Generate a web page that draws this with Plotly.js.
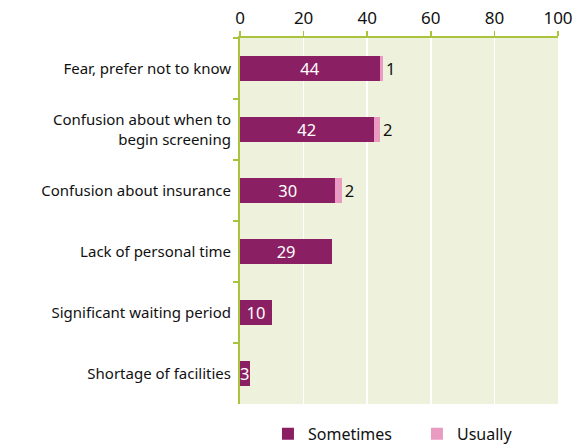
<!DOCTYPE html>
<html><head><meta charset="utf-8">
<script src="https://cdn.plot.ly/plotly-3.0.1.min.js"></script>
<style>html,body{margin:0;padding:0;background:#fff}#c{width:580px;height:448px}</style>
</head><body><div id="c"></div>
<script>
const categories = ["Fear, prefer not to know", "Confusion about when to<br>begin screening", "Confusion about insurance", "Lack of personal time", "Significant waiting period", "Shortage of facilities"];
const sometimes = [44, 42, 30, 29, 10, 3];
const usually = [1, 2, 2, 0, 0, 0];
const xTicks = [0, 20, 40, 60, 80, 100];

const FONT = "Noto Sans, Open Sans, sans-serif";
const green = "#a9c43c";
const traces = [
  {type: "bar", orientation: "h", name: "Sometimes", y: categories, x: sometimes,
   marker: {color: "#8b1f63", line: {width: 0}}, width: 0.4,
   text: sometimes.map(String), textposition: "inside", insidetextanchor: "middle",
   textangle: 0, constraintext: "none", textfont: {color: "#ffffff", size: 16.5, family: FONT},
   hoverinfo: "none"},
  {type: "bar", orientation: "h", name: "Usually", y: categories, x: usually,
   marker: {color: "#ea9bc2", line: {width: 0}}, width: 0.4,
   text: usually.map(v => v ? String(v) : ""), textposition: "outside", cliponaxis: false,
   textangle: 0, constraintext: "none", textfont: {color: "#111111", size: 16.5, family: FONT},
   hoverinfo: "none"}
];
const layout = {
  width: 580, height: 448,
  margin: {l: 240, r: 22, t: 38, b: 44, autoexpand: false},
  barmode: "stack",
  paper_bgcolor: "#ffffff", plot_bgcolor: "#eef1db",
  font: {family: FONT, size: 15, color: "#111111"},
  showlegend: true,
  legend: {orientation: "h", xref: "container", x: 0.462, xanchor: "left",
           y: -0.035, yanchor: "top",
           font: {size: 16, family: FONT}, entrywidth: 104, traceorder: "normal"},
  xaxis: {side: "top", range: [0, 100], tickvals: xTicks, ticktext: xTicks.map(String),
          showgrid: true, gridcolor: "#ffffff", gridwidth: 1.5,
          showline: true, linecolor: green, linewidth: 2,
          ticks: "outside", ticklen: 5, tickcolor: green, tickwidth: 1.5,
          tickfont: {size: 17, family: FONT}, zeroline: false, fixedrange: true},
  yaxis: {autorange: "reversed", type: "category", tickson: "boundaries",
          showgrid: false, showline: true, linecolor: green, linewidth: 2,
          ticks: "outside", ticklen: 5, tickcolor: green, tickwidth: 1.5,
          ticklabelstandoff: 4,
          tickfont: {size: 15, family: FONT}, fixedrange: true},
};
Plotly.newPlot("c", traces, layout, {displayModeBar: false, staticPlot: true});
</script></body></html>
